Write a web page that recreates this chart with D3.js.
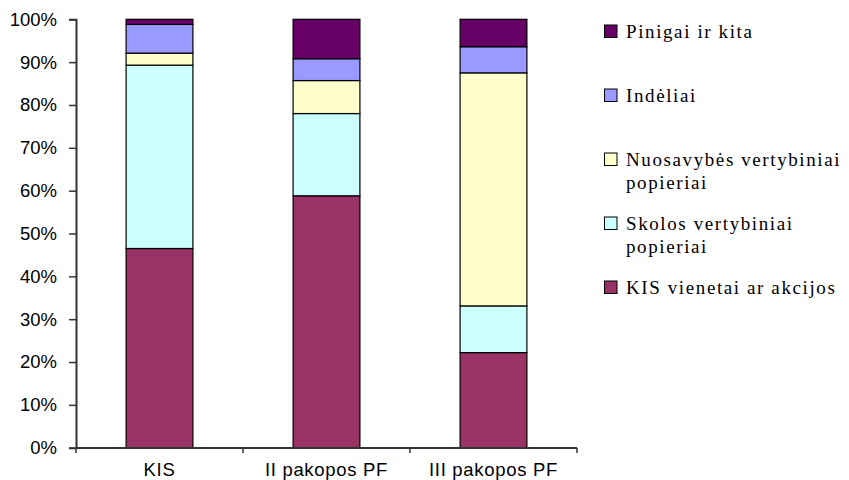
<!DOCTYPE html>
<html>
<head>
<meta charset="utf-8">
<script src="https://cdn.jsdelivr.net/npm/d3@7"></script>
<style>
  html, body { margin: 0; padding: 0; background: #fff; }
  svg { display: block; }
  text.serif { font-family: 'Liberation Serif', 'Times New Roman', Times, Tinos, 'DejaVu Serif', 'Noto Serif', serif; }
  text.sans { font-family: 'Liberation Sans', Arial, Helvetica, sans-serif; }
</style>
</head>
<body>
<svg id="chart" width="849" height="480"></svg>
<script>
// Portfolio structure by fund type (shares of total, %)
const categories = ["KIS", "II pakopos PF", "III pakopos PF"];
const kisVienetai = [46.5, 58.8, 22.2];
const skolos      = [42.8, 19.2, 10.9];
const nuosavybes  = [2.8, 7.7, 54.4];
const indeliai    = [6.7, 5.1, 6.1];
const pinigai     = [1.2, 9.2, 6.4];

const seriesNames = ["KIS vienetai ar akcijos", "Skolos vertybiniai popieriai",
                     "Nuosavybės vertybiniai popieriai", "Indėliai", "Pinigai ir kita"];
const seriesValues = [kisVienetai, skolos, nuosavybes, indeliai, pinigai];
const seriesColors = ["#993366", "#CCFFFF", "#FFFFCC", "#9999FF", "#660066"];
const legendLines = [["KIS vienetai ar akcijos"], ["Skolos vertybiniai", "popieriai"],
                     ["Nuosavybės vertybiniai", "popieriai"], ["Indėliai"], ["Pinigai ir kita"]];
const yTicks = [0, 0.1, 0.2, 0.3, 0.4, 0.5, 0.6, 0.7, 0.8, 0.9, 1];

const svg = d3.select("#chart");

const x = d3.scaleBand().domain(categories).range([76, 577])
  .paddingInner(0.6).paddingOuter(0.3);
const y = d3.scaleLinear().domain([0, 1]).range([447.7, 19.3]);

// stacked table
const rows = categories.map((c, i) => {
  const r = { cat: c };
  seriesNames.forEach((s, k) => r[s] = seriesValues[k][i] / 100);
  return r;
});
const stacked = d3.stack().keys(seriesNames)(rows);

// bars
svg.append("g").selectAll("g").data(stacked).join("g")
  .attr("fill", (d, i) => seriesColors[i])
  .selectAll("rect").data(d => d).join("rect")
  .attr("x", d => x(d.data.cat))
  .attr("y", d => y(d[1]))
  .attr("width", x.bandwidth())
  .attr("height", d => y(d[0]) - y(d[1]))
  .attr("stroke", "#000")
  .attr("stroke-width", 1.2);

// y axis
const yAxis = svg.append("g").attr("transform", "translate(76,0)")
  .call(d3.axisLeft(y).tickValues(yTicks).tickFormat(d3.format(".0%"))
    .tickSize(7).tickPadding(12));
yAxis.attr("font-family", null).attr("font-size", null);
yAxis.select(".domain").attr("stroke", "#333").attr("stroke-width", 2);
yAxis.selectAll(".tick line").attr("stroke", "#333").attr("stroke-width", 1.5);
yAxis.selectAll("text").attr("class", "sans")
  .style("font-size", "18.5px").attr("fill", "#000");

// x axis
const xAxis = svg.append("g").attr("transform", "translate(0,448)")
  .call(d3.axisBottom(x).tickSize(0).tickPadding(0));
xAxis.attr("font-family", null).attr("font-size", null);
xAxis.select(".domain").attr("stroke", "#333").attr("stroke-width", 2)
  .attr("d", `M${x.range()[0]},0H${x.range()[1]}`);
xAxis.selectAll("text").attr("class", "sans")
  .attr("dy", null).attr("y", 28)
  .style("font-size", "18.5px").attr("fill", "#000").attr("letter-spacing", "0.7px");
// category boundary ticks
const bounds = d3.range(categories.length + 1).map(i => x.range()[0] + i * x.step());
xAxis.selectAll(".btick").data(bounds).join("line")
  .attr("class", "btick")
  .attr("x1", d => d).attr("x2", d => d)
  .attr("y1", 0).attr("y2", 5)
  .attr("stroke", "#333").attr("stroke-width", 1.5);

// legend (top entry is the last series)
const legend = svg.append("g");
const order = d3.range(seriesNames.length).reverse();
order.forEach((k, j) => {
  const base = 38 + j * 64;
  const g = legend.append("g");
  g.append("rect")
    .attr("x", 604.5).attr("y", base - 13)
    .attr("width", 12.5).attr("height", 12.5)
    .attr("fill", seriesColors[k]).attr("stroke", "#000").attr("stroke-width", 1);
  const t = g.append("text").attr("class", "serif")
    .style("font-size", "19px").attr("letter-spacing", "1.6px").attr("fill", "#000");
  legendLines[k].forEach((line, li) => {
    t.append("tspan").attr("x", 626).attr("y", base + li * 23).text(line);
  });
});
</script>
</body>
</html>
